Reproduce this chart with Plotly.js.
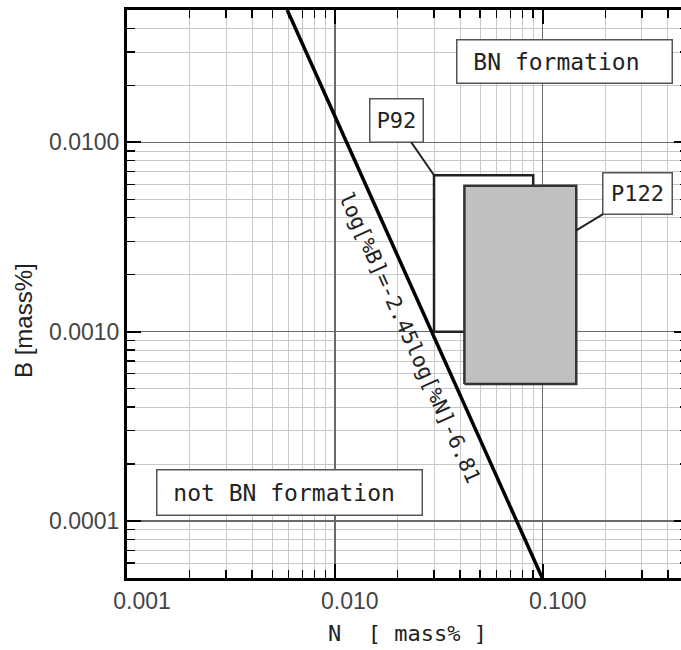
<!DOCTYPE html>
<html>
<head>
<meta charset="utf-8">
<script src="https://cdn.plot.ly/plotly-3.0.1.min.js"></script>
<style>
html,body{margin:0;padding:0;overflow:hidden;background:#fff;}
#chart{width:700px;height:650px;}
</style>
</head>
<body>
<div id="chart"></div>
<script>
// ---- data ----
const xTickVals = [0.001, 0.01, 0.1];
const xTickText = ['0.001', '0.010', '0.100'];
const yTickVals = [0.0001, 0.001, 0.01];
const yTickText = ['0.0001', '0.0010', '0.0100'];

// boundary line log[%B] = -2.45 log[%N] - 6.81 (end points)
const lineN = [0.0059, 0.0995];
const lineB = [0.05, 0.00005];

// P92 composition range
const p92N = [0.03, 0.09];
const p92B = [0.001, 0.0067];
// P122 composition range
const p122N = [0.042, 0.145];
const p122B = [0.00053, 0.0059];

const formulaText = 'log[%B]=-2.45log[%N]-6.81';

// ---- helpers ----
function rect(xs, ys) {
  return {x: [xs[0], xs[1], xs[1], xs[0], xs[0]], y: [ys[0], ys[0], ys[1], ys[1], ys[0]]};
}
function minorVals(decades) {
  const out = [];
  decades.forEach(d => { for (let m = 2; m <= 9; m++) out.push(Number((m * d).toPrecision(3))); });
  return out;
}
const xMinor = minorVals([0.001, 0.01, 0.1]);
const yMinor = minorVals([0.00001, 0.0001, 0.001, 0.01]);

const r92 = rect(p92N, p92B);
const r122 = rect(p122N, p122B);

const traces = [
  {x: r92.x, y: r92.y, type: 'scatter', mode: 'lines', fill: 'toself', fillcolor: '#ffffff',
   line: {color: '#222', width: 2.5}, hoverinfo: 'skip', showlegend: false},
  {x: r122.x, y: r122.y, type: 'scatter', mode: 'lines', fill: 'toself', fillcolor: '#c0c0c0',
   line: {color: '#333', width: 2.5}, hoverinfo: 'skip', showlegend: false},
  {x: lineN, y: lineB, type: 'scatter', mode: 'lines',
   line: {color: '#000', width: 3.5}, hoverinfo: 'skip', showlegend: false}
];

const mono = 'DejaVu Sans Mono, Liberation Mono, monospace';
const sans = 'Liberation Sans, Arial, sans-serif';

const axisCommon = {
  type: 'log',
  showline: true, linecolor: '#000', linewidth: 3, mirror: 'ticks',
  ticks: 'inside', ticklen: 14, tickwidth: 2, tickcolor: '#000',
  showgrid: true, gridcolor: '#6a6a6a', gridwidth: 1.5,
  zeroline: false,
  tickfont: {family: sans, size: 23, color: '#444'},
  tickmode: 'array'
};

const layout = {
  width: 700, height: 650,
  margin: {l: 127, r: 12, t: 10, b: 72},
  paper_bgcolor: '#fff', plot_bgcolor: '#fff',
  showlegend: false,
  xaxis: Object.assign({}, axisCommon, {
    range: [Math.log10(0.001), Math.log10(0.5)],
    tickvals: xTickVals, ticktext: xTickText,
    ticklabelshift: 15, ticklabelstandoff: 0,
    minor: {tickmode: 'array', tickvals: xMinor, ticks: 'inside', ticklen: 8, tickwidth: 1.5,
            tickcolor: '#000', showgrid: true, gridcolor: '#c8c8c8', gridwidth: 1},
    title: {text: 'N\u00a0\u00a0[ mass% ]', font: {family: mono, size: 22, color: '#222'}, standoff: 14}
  }),
  yaxis: Object.assign({}, axisCommon, {
    range: [Math.log10(0.00005), Math.log10(0.05)],
    tickvals: yTickVals, ticktext: yTickText,
    ticklabelstandoff: 0,
    minor: {tickmode: 'array', tickvals: yMinor, ticks: 'inside', ticklen: 8, tickwidth: 1.5,
            tickcolor: '#000', showgrid: true, gridcolor: '#c8c8c8', gridwidth: 1},
    title: {text: 'B [mass%]<span style="color:rgba(0,0,0,0)">____</span>', font: {family: sans, size: 24, color: '#222'}, standoff: 10}
  }),
  annotations: [
    {xref: 'paper', yref: 'paper', x: 0.7802, y: 0.9102, xanchor: 'center', yanchor: 'middle', showarrow: false,
     text: '\u00a0BN formation', align: 'left', width: 210, height: 38, borderpad: 2,
     bgcolor: '#fff', bordercolor: '#555', borderwidth: 1.5,
     font: {family: mono, size: 23, color: '#222'}},
    {xref: 'paper', yref: 'paper', x: 0.2888, y: 0.1514, xanchor: 'center', yanchor: 'middle', showarrow: false,
     text: '\u00a0not BN formation', align: 'left', width: 260, height: 40, borderpad: 2,
     bgcolor: '#fff', bordercolor: '#555', borderwidth: 1.5,
     font: {family: mono, size: 23, color: '#222'}},
    {xref: 'x', yref: 'y', x: Math.log10(p92N[0]), y: Math.log10(p92B[1]),
     ax: -38, ay: -55, showarrow: true, arrowhead: 0, arrowwidth: 2, arrowcolor: '#222',
     text: 'P92', width: 48, height: 38, borderpad: 2,
     bgcolor: '#fff', bordercolor: '#555', borderwidth: 1.5,
     font: {family: mono, size: 22, color: '#222'}},
    {xref: 'x', yref: 'y', x: Math.log10(p122N[1]), y: Math.log10(0.00343),
     ax: 61, ay: -37, showarrow: true, arrowhead: 0, arrowwidth: 2, arrowcolor: '#222',
     text: 'P122', width: 64, height: 36, borderpad: 2,
     bgcolor: '#fff', bordercolor: '#555', borderwidth: 1.5,
     font: {family: mono, size: 22, color: '#222'}},
    {xref: 'paper', yref: 'paper', x: 0.5045, y: 0.4234, xanchor: 'center', yanchor: 'middle', showarrow: false,
     text: formulaText, textangle: 65.85,
     font: {family: mono, size: 21, color: '#222'}}
  ]
};

Plotly.newPlot('chart', traces, layout, {displayModeBar: false, staticPlot: true});
</script>
</body>
</html>
